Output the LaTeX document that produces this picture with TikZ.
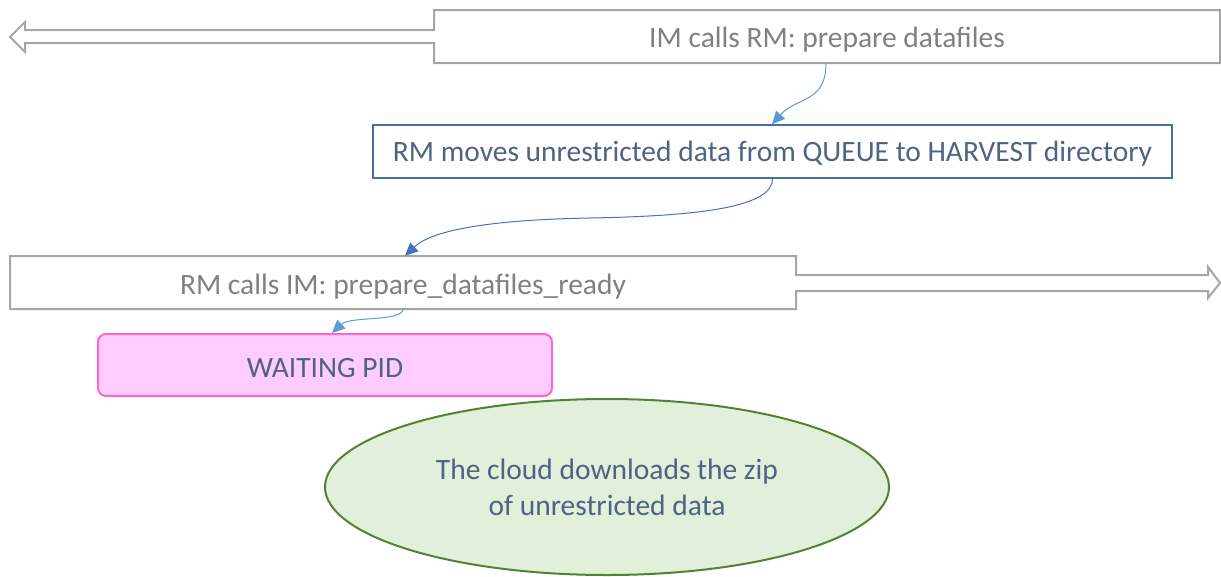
\documentclass[tikz,border=0pt]{standalone}
\usepackage{fontspec}
\setmainfont{Carlito}
\usetikzlibrary{arrows.meta,shapes.geometric,calc}
\definecolor{calloutgray}{HTML}{A5A5A5}
\definecolor{graytext}{HTML}{808080}
\definecolor{slatetext}{HTML}{4F6382}
\definecolor{boxblue}{HTML}{41719C}
\definecolor{lightarrow}{HTML}{5B9BD5}
\definecolor{darkarrow}{HTML}{4472C4}
\definecolor{pinkline}{HTML}{FF66CC}
\definecolor{pinkfill}{HTML}{FFCCFF}
\definecolor{greenline}{HTML}{548235}
\definecolor{greenfill}{HTML}{E2EFDA}
\tikzset{
  bigfont/.style={font=\fontsize{29.5}{36}\selectfont},
  % baseline lowered by #1 below the node centre
  lowbase/.style={text height={5pt+2*#1},text depth=5pt},
  callout/.style={draw=calloutgray,line width=2pt,line join=miter},
  calltext/.style={bigfont,text=graytext,inner sep=0pt,minimum width=786pt,minimum height=53pt},
  bluebox/.style={bigfont,draw=boxblue,line width=1.3pt,text=slatetext,inner sep=0pt,minimum width=799pt,minimum height=53pt},
  waitbox/.style={bigfont,draw=pinkline,fill=pinkfill,line width=2pt,rounded corners=8pt,text=slatetext,inner sep=0pt,minimum width=454pt,minimum height=62pt},
  cloudnode/.style={bigfont,ellipse,draw=greenline,fill=greenfill,line width=2pt,text=slatetext,align=center,inner sep=0pt,minimum width=564pt,minimum height=176pt},
  conn/.style={line width=1pt,-{Triangle[length=13pt,width=12pt]}},
}
\begin{document}
\begin{tikzpicture}[x=1pt,y=-1pt]
\useasboundingbox (0,0) rectangle (1221,576);
% callout 1 (left arrow)
\draw[callout] (1220,10) -- (434,10) -- (434,30) -- (25,30) -- (25,22) -- (10,37) -- (25,52) -- (25,43) -- (434,43) -- (434,63) -- (1220,63) -- cycle;
\node[calltext,lowbase=11.2pt] (box1) at (827,36.5) {IM calls RM: prepare datafiles};
% box 2
\node[bluebox,lowbase=10pt] (box2) at (772.5,151.5) {RM moves unrestricted data from QUEUE to HARVEST directory};
% callout 3 (right arrow)
\draw[callout] (10,256) -- (796,256) -- (796,275) -- (1208,275) -- (1208,267) -- (1220,283) -- (1208,298) -- (1208,291) -- (796,291) -- (796,309) -- (10,309) -- cycle;
\node[calltext,lowbase=12pt] (box3) at (403,282.5) {RM calls IM: prepare\_datafiles\_ready};
% waiting box
\node[waitbox,lowbase=12pt] (wait) at (325,365) {WAITING PID};
% cloud ellipse
\node[cloudnode] (cloud) at (607,487) {The cloud downloads the zip\\of unrestricted data};
% connectors
\draw[conn,draw=lightarrow] (box1.south -| 826,0) .. controls +(0,40) and +(25,-28) .. (box2.north -| 772,0);
\draw[conn,draw=darkarrow] (box2.south) .. controls (773,207) and (700,216) .. (590,218) .. controls (480,220) and (430,232) .. (box3.north -| 405,0);
\draw[conn,draw=lightarrow] (box3.south) .. controls (402,322) and (350,316) .. (wait.north -| 332,0);
\end{tikzpicture}
\end{document}
